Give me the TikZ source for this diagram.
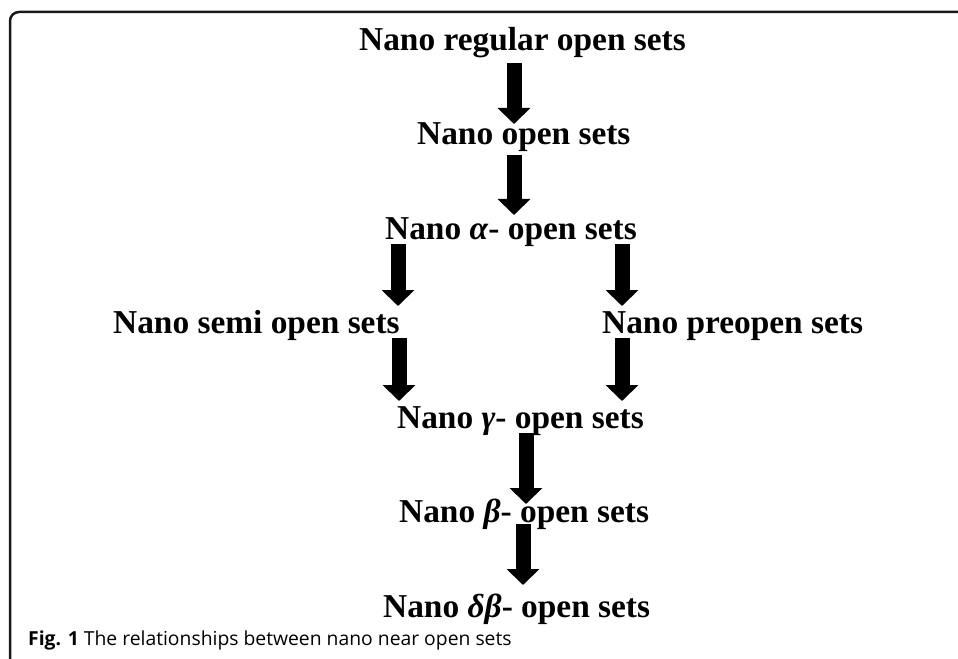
\documentclass[tikz,border=0pt]{standalone}
\usepackage{fontspec}
\setmainfont{Liberation Serif}
\newfontfamily\capfont{Open Sans}
\usetikzlibrary{arrows.meta}

\tikzset{
  setname/.style={anchor=base west, inner sep=0pt, font=\fontsize{33.5}{38}\selectfont\bfseries},
  bigarrow/.style={line width=15bp, -{Triangle[width=32bp,length=16bp]}},
}
\newcommand{\gk}[1]{\textbf{\textit{#1}}}

\begin{document}
\begin{tikzpicture}[x=1bp, y=-1bp]
      \useasboundingbox (0,0) rectangle (958,659);
      % frame of the figure
      \draw[line width=2.5bp, black!90, rounded corners=9bp] (980,12) -- (10,12) -- (10,680);

      \node[setname] (reg) at (359,51) {Nano regular open sets};
      \node[setname] (open) at (417,145) {Nano open sets};
      \node[setname] (alpha) at (385,239) {Nano \gk{α}- open sets};

      \node[setname] (semi) at (113,333) {Nano semi open sets};
      \node[setname] (pre) at (602,333) {Nano preopen sets};

      \node[setname] (gamma) at (397,428) {Nano \gk{γ}- open sets};
      \node[setname] (beta) at (399,522) {Nano \gk{β}- open sets};
      \node[setname] (dbeta) at (383,617) {Nano \gk{δβ}- open sets};

      \draw[bigarrow, shorten <=12bp, shorten >=21bp] (514,0 |- reg.base) -- (514,0 |- open.base);
      \draw[bigarrow, shorten <=10bp, shorten >=24bp] (514,0 |- open.base) -- (514,0 |- alpha.base);

      \draw[bigarrow, shorten <=5bp, shorten >=27bp] (398,0 |- alpha.base) -- (398,0 |- semi.base);
      \draw[bigarrow, shorten <=5bp, shorten >=27bp] (622,0 |- alpha.base) -- (622,0 |- pre.base);

      \draw[bigarrow, shorten <=5bp, shorten >=27bp] (399,0 |- semi.base) -- (399,0 |- gamma.base);
      \draw[bigarrow, shorten <=5bp, shorten >=27bp] (622,0 |- pre.base) -- (622,0 |- gamma.base);

      \draw[bigarrow, shorten <=5bp, shorten >=18bp] (526,0 |- gamma.base) -- (526,0 |- beta.base);
      \draw[bigarrow, shorten <=2bp, shorten >=32bp] (523,0 |- beta.base) -- (523,0 |- dbeta.base);

      \node[anchor=base west, inner sep=0pt, font=\capfont\fontsize{19.4}{23}\selectfont] (cap) at (28,645)
        {\textbf{Fig. 1} The relationships between nano near open sets};
\end{tikzpicture}
\end{document}
